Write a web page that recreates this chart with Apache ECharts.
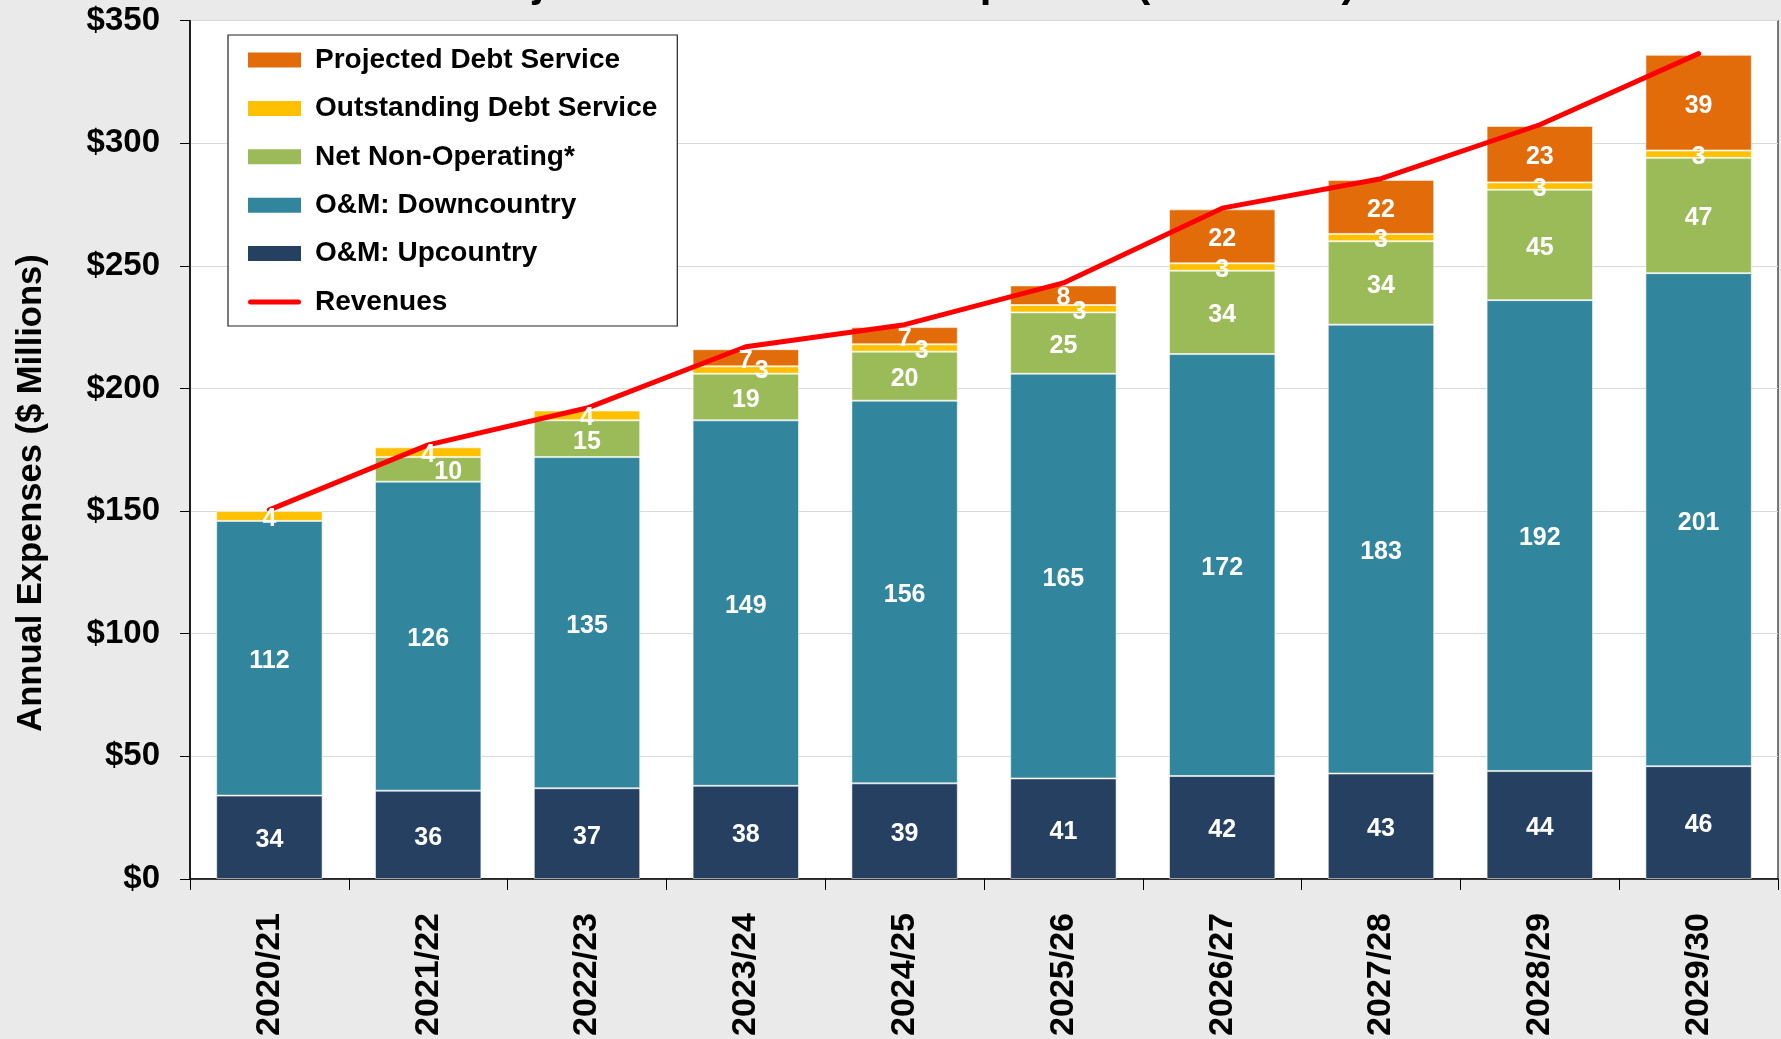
<!DOCTYPE html>
<html>
<head>
<meta charset="utf-8">
<script src="https://cdn.jsdelivr.net/npm/echarts@6/dist/echarts.min.js"></script>
<style>
  html, body { margin: 0; padding: 0; background: #EAEAEA; }
  #chart { width: 1781px; height: 1039px; }
</style>
</head>
<body>
<div id="chart"></div>
<script>
// Fiscal years on the category axis
const years = ['2020/21', '2021/22', '2022/23', '2023/24', '2024/25',
               '2025/26', '2026/27', '2027/28', '2028/29', '2029/30'];

// Expense components, $ millions (stacked bottom to top)
const upcountry       = [34, 36, 37, 38, 39, 41, 42, 43, 44, 46];
const downcountry     = [112, 126, 135, 149, 156, 165, 172, 183, 192, 201];
const netNonOperating = [0, 10, 15, 19, 20, 25, 34, 34, 45, 47];
const outstandingDebt = [4, 4, 4, 3, 3, 3, 3, 3, 3, 3];
const projectedDebt   = [0, 0, 0, 7, 7, 8, 22, 22, 23, 39];

// Revenue line, $ millions
const revenues = [150.5, 177, 192, 217, 226, 243, 273.5, 285.5, 307.5, 336.5];

// Value axis ticks
const yTicks = [0, 50, 100, 150, 200, 250, 300, 350];

const FONT = '"Liberation Sans", Arial, Helvetica, sans-serif';

// Stack layers, bottom to top
const layers = [
  { name: 'O&M: Upcountry',           values: upcountry,       color: '#254061' },
  { name: 'O&M: Downcountry',         values: downcountry,     color: '#31859C' },
  { name: 'Net Non-Operating*',       values: netNonOperating, color: '#9BBB59' },
  { name: 'Outstanding Debt Service', values: outstandingDebt, color: '#FFC000' },
  { name: 'Projected Debt Service',   values: projectedDebt,   color: '#E36C0A' }
];

// Base label shift plus small sideways nudges for labels that would otherwise collide
const LABEL_DY = 3;
const labelNudges = {
  'Net Non-Operating*': { 1: [20, 0] },
  'Outstanding Debt Service': { 3: [16, -2], 4: [17, 0], 5: [16, 0] }
};

function barData(name, values, withLabels) {
  const nudges = labelNudges[name] || {};
  return values.map((v, i) => {
    if (!v) return '-';
    const item = { value: v };
    if (withLabels) {
      const n = nudges[i] || [0, 0];
      item.label = { offset: [n[0], n[1] + LABEL_DY] };
    }
    return item;
  });
}

// Coloured segments (no text)
function barSeries(layer) {
  return {
    name: layer.name,
    type: 'bar',
    stack: 'expenses',
    barCategoryGap: '33%',
    barGap: '-100%',
    z: 2,
    data: barData(layer.name, layer.values, false),
    itemStyle: { color: layer.color, borderColor: 'rgba(255,255,255,0.55)', borderWidth: 1 },
    label: { show: false },
    emphasis: { disabled: true }
  };
}

// Transparent twin stack carrying the value labels above the revenue line
function labelSeries(layer) {
  return {
    name: layer.name + ' ',
    type: 'bar',
    stack: 'labels',
    barCategoryGap: '33%',
    barGap: '-100%',
    z: 4,
    silent: true,
    data: barData(layer.name, layer.values, true),
    itemStyle: { color: 'rgba(0,0,0,0)', borderWidth: 0 },
    label: {
      show: true,
      position: 'inside',
      color: '#fff',
      fontFamily: FONT,
      fontWeight: 'bold',
      fontSize: 25,
      formatter: p => (p.value ? String(p.value) : '')
    },
    emphasis: { disabled: true }
  };
}

const chart = echarts.init(document.getElementById('chart'), null, { renderer: 'canvas' });

chart.setOption({
  animation: false,
  backgroundColor: '#EAEAEA',
  textStyle: { fontFamily: FONT },
  grid: {
    left: 190, right: 3, top: 20.5, bottom: 160,
    show: true,
    backgroundColor: '#FFFFFF',
    borderColor: '#222',
    borderWidth: 1.2
  },
  legend: {
    orient: 'vertical',
    left: 228,
    top: 35,
    selectedMode: false,
    itemWidth: 53,
    itemHeight: 15,
    itemGap: 20.4,
    padding: [11, 20, 10, 20],
    backgroundColor: '#FFFFFF',
    borderColor: '#222',
    borderWidth: 1.2,
    borderRadius: 0,
    itemStyle: { borderWidth: 0 },
    textStyle: {
      fontFamily: FONT,
      fontWeight: 'bold',
      fontSize: 28,
      lineHeight: 28,
      color: '#000',
      padding: [0, 0, 0, 9]
    },
    data: [
      { name: 'Projected Debt Service', icon: 'rect' },
      { name: 'Outstanding Debt Service', icon: 'rect' },
      { name: 'Net Non-Operating*', icon: 'rect' },
      { name: 'O&M: Downcountry', icon: 'rect' },
      { name: 'O&M: Upcountry', icon: 'rect' },
      { name: 'Revenues',
        icon: 'path://M0,0 M2.5,5 H50.5 A2.5,2.5 0 0 1 50.5,10 H2.5 A2.5,2.5 0 0 1 2.5,5 Z M53,15' }
    ]
  },
  xAxis: {
    type: 'category',
    data: years,
    axisLine: { show: true, lineStyle: { color: '#000', width: 1.5 } },
    axisTick: { show: true, length: 11, lineStyle: { color: '#000', width: 1 } },
    axisLabel: {
      interval: 0,
      rotate: 90,
      margin: 34,
      color: '#000',
      fontFamily: FONT,
      fontWeight: 'bold',
      fontSize: 34
    },
    splitLine: { show: false }
  },
  yAxis: {
    type: 'value',
    min: yTicks[0],
    max: yTicks[yTicks.length - 1],
    interval: yTicks[1] - yTicks[0],
    axisLine: { show: true, lineStyle: { color: '#000', width: 1.5 } },
    axisTick: { show: true, length: 10, lineStyle: { color: '#000', width: 1 } },
    axisLabel: {
      margin: 30,
      color: '#000',
      fontFamily: FONT,
      fontWeight: 'bold',
      fontSize: 33,
      formatter: v => '$' + v
    },
    splitLine: { show: true, lineStyle: { color: '#D9D9D9', width: 1 } }
  },
  graphic: [
    {
      type: 'text',
      x: 909,
      y: -16,
      silent: true,
      style: {
        text: 'Projected Total Annual Expenses ($ Millions)',
        font: 'bold 42px ' + FONT,
        fill: '#000',
        align: 'center',
        verticalAlign: 'middle'
      }
    },
    {
      type: 'text',
      x: 31,
      y: 493,
      rotation: Math.PI / 2,
      silent: true,
      style: {
        text: 'Annual Expenses ($ Millions)',
        font: 'bold 34.5px ' + FONT,
        fill: '#000',
        align: 'center',
        verticalAlign: 'middle'
      }
    }
  ],
  series: [
    ...layers.map(barSeries),
    {
      name: 'Revenues',
      type: 'line',
      data: revenues,
      symbol: 'none',
      smooth: false,
      z: 3,
      itemStyle: { color: '#FF0000' },
      lineStyle: { color: '#FF0000', width: 5, cap: 'round', join: 'round' },
      emphasis: { disabled: true }
    },
    ...layers.map(labelSeries)
  ]
});
</script>
</body>
</html>
